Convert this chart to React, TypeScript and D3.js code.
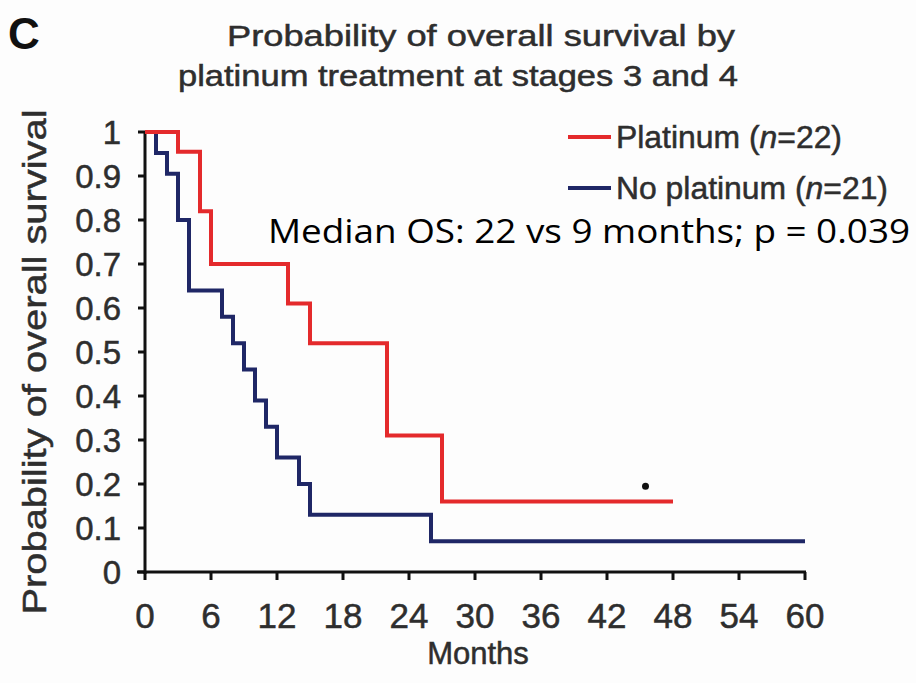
import React from "react";
import * as d3 from "d3";

const platTimes = [0, 3, 5, 6, 13, 15, 22, 27, 48];
const platSurv = [1, 0.955, 0.82, 0.7, 0.61, 0.52, 0.31, 0.16, 0.16];
const noPlatTimes = [0, 1, 2, 3, 4, 7, 8, 9, 10, 11, 12, 14, 15, 26, 60];
const noPlatSurv = [1, 0.952, 0.905, 0.8, 0.64, 0.58, 0.52, 0.46, 0.39, 0.33, 0.26, 0.2, 0.13, 0.07, 0.07];
const platCensorTimes = [45.5];
const platCensorSurv = [0.195];
const xTicks = [0, 6, 12, 18, 24, 30, 36, 42, 48, 54, 60];
const yTicks = [0, 0.1, 0.2, 0.3, 0.4, 0.5, 0.6, 0.7, 0.8, 0.9, 1];
const seriesNames = ["Platinum", "No platinum"];
const seriesN = [22, 21];

const W = 916;
const H = 683;
const RED = "#e42a2c";
const BLUE = "#1f2766";
const FONT = "'Liberation Sans', Arial, Helvetica, sans-serif";
const TXT = "#2e2e2e";

export default function App() {
  const x = d3.scaleLinear().domain([0, 60]).range([145, 805]);
  const y = d3.scaleLinear().domain([0, 1]).range([572, 132]);
  const line = d3
    .line<[number, number]>()
    .x((d) => x(d[0]))
    .y((d) => y(d[1]))
    .curve(d3.curveStepAfter);
  const platPts = platTimes.map((t, i) => [t, platSurv[i]] as [number, number]);
  const noPlatPts = noPlatTimes.map((t, i) => [t, noPlatSurv[i]] as [number, number]);
  const yFmt = (v: number) => (v === 0 ? "0" : v === 1 ? "1" : d3.format(".1f")(v));
  const heavy = { stroke: TXT, strokeWidth: 0.5 };

  return (
    <svg
      width={W}
      height={H}
      style={{ position: "absolute", left: 0, top: 0, display: "block", background: "#fff" }}
      fontFamily={FONT}
    >
      <rect width={W} height={H} fill="#fdfdfd" />
      <text x={8} y={49} fontSize={44} fontWeight="bold" fill="#111">C</text>
      <text x={481} y={46} fontSize={30} textAnchor="middle" fill={TXT} {...heavy} textLength={508} lengthAdjust="spacingAndGlyphs">
        Probability of overall survival by
      </text>
      <text x={458} y={86} fontSize={30} textAnchor="middle" fill={TXT} {...heavy} textLength={560} lengthAdjust="spacingAndGlyphs">
        platinum treatment at stages 3 and 4
      </text>

      {/* axes */}
      <line x1={x(0)} x2={x(0)} y1={y(1)} y2={y(0) + 2} stroke="#111" strokeWidth={3} />
      <line x1={x(0) - 8} x2={x(60) + 1} y1={y(0)} y2={y(0)} stroke="#111" strokeWidth={3} />
      {yTicks.map((t) => (
        <g key={"y" + t}>
          <line x1={x(0) - 7} x2={x(0)} y1={y(t)} y2={y(t)} stroke="#111" strokeWidth={3} />
          <text x={121} y={y(t) + 12} fontSize={33} textAnchor="end" fill={TXT} {...heavy}>
            {yFmt(t)}
          </text>
        </g>
      ))}
      {xTicks.map((t) => (
        <g key={"x" + t}>
          <line x1={x(t)} x2={x(t)} y1={y(0)} y2={y(0) + 8} stroke="#111" strokeWidth={3} />
          <text x={x(t)} y={628} fontSize={35} textAnchor="middle" fill={TXT} {...heavy}>
            {t}
          </text>
        </g>
      ))}
      <text x={478} y={664} fontSize={31} textAnchor="middle" fill={TXT} {...heavy}>Months</text>
      <text
        transform="translate(46,362) rotate(-90)"
        fontSize={33}
        textAnchor="middle"
        fill={TXT}
        {...heavy}
        textLength={505}
        lengthAdjust="spacingAndGlyphs"
      >
        Probability of overall survival
      </text>

      {/* curves */}
      <path d={line(noPlatPts) || ""} fill="none" stroke={BLUE} strokeWidth={4} />
      <path d={line(platPts) || ""} fill="none" stroke={RED} strokeWidth={4} />
      {platCensorTimes.map((t, i) => (
        <circle key={"c" + i} cx={x(t)} cy={y(platCensorSurv[i])} r={3.5} fill="#111" />
      ))}

      {/* legend */}
      {seriesNames.map((name, i) => {
        const ly = 137 + i * 51;
        return (
          <g key={name}>
            <line x1={568} x2={611} y1={ly} y2={ly} stroke={i === 0 ? RED : BLUE} strokeWidth={4} />
            <text
              x={616}
              y={ly + 11}
              fontSize={31}
              fill={TXT}
              {...heavy}
              textLength={i === 0 ? 226 : 272}
              lengthAdjust="spacingAndGlyphs"
            >
              {name} (<tspan fontStyle="italic">n</tspan>={seriesN[i]})
            </text>
          </g>
        );
      })}

      <text
        x={268}
        y={243}
        fontSize={33}
        fill="#000"
        fontFamily="'Open Sans', 'Noto Sans', sans-serif"
        textLength={642}
        lengthAdjust="spacingAndGlyphs"
      >
        Median OS: 22 vs 9 months; p = 0.039
      </text>
    </svg>
  );
}
